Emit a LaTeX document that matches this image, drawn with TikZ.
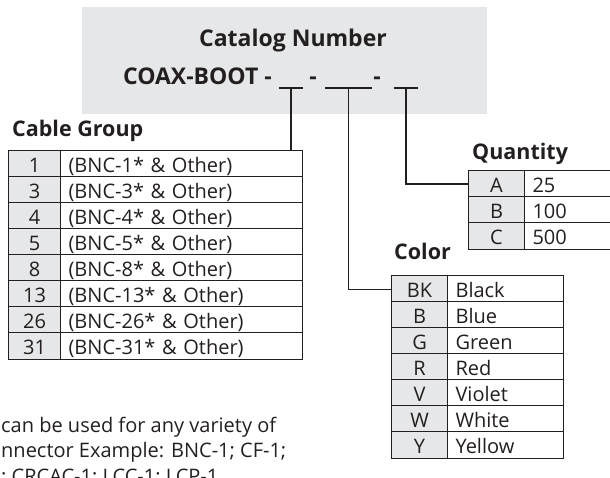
\documentclass[tikz,border=0pt]{standalone}
\usepackage{fontspec}
\setmainfont{Open Sans}
\definecolor{boxgray}{RGB}{230,231,232}
\definecolor{ink}{RGB}{35,31,32}
\newcommand{\cellfont}{\fontsize{20}{24}\selectfont}
\newcommand{\headfont}{\bfseries\fontsize{21.5}{25}\selectfont}
\newcommand{\catfont}{\bfseries\fontsize{23}{27}\selectfont}
\tikzset{
    inkline/.style={draw=ink,line width=1.1pt},
    heading/.style={font=\headfont,text=ink,inner sep=0pt},
    catline/.style={font=\catfont,text=ink,inner sep=0pt},
    codecell/.style={rectangle,draw=ink,line width=1.1pt,fill=boxgray,font=\cellfont,text=ink,
        anchor=north west,minimum width=#1,inner xsep=0pt,inner ysep=1pt,
        text height=21pt,text depth=4pt},
    namecell/.style={rectangle,draw=ink,line width=1.1pt,fill=white,font=\cellfont,text=ink,
        anchor=north west,text width=#1,align=left,inner xsep=8pt,inner ysep=1pt,
        text height=21pt,text depth=4pt},
    note/.style={font=\cellfont,text=ink,inner sep=0pt,anchor=base west}
}
\begin{document}
\begin{tikzpicture}[x=1pt,y=-1pt]
    \useasboundingbox (0,0) rectangle (610,478);
    \clip (0,0) rectangle (610,478);
    \fill[boxgray] (82,7) rectangle (487,114);
    \node[catline,anchor=base] (catalog) at (293,47) {Catalog Number};
    \node[catline,anchor=base east] (coax) at (272,85) {COAX-BOOT -};
    \coordinate (blankA) at (291,88);
    \coordinate (blankB) at (348.5,88);
    \coordinate (blankC) at (406,88);
    \node[catline,anchor=base] (dashA) at (313,85) {-};
    \node[catline,anchor=base] (dashB) at (377,85) {-};
    \draw[inkline] ([xshift=-12pt]blankA) -- ([xshift=12pt]blankA);
    \draw[inkline] ([xshift=-23.5pt]blankB) -- ([xshift=23.5pt]blankB);
    \draw[inkline] ([xshift=-12pt]blankC) -- ([xshift=12pt]blankC);

    \node[heading,anchor=base west] (cablegroup) at (12,137) {Cable Group};
    \foreach \code/\name [count=\i] in {1/(BNC-1* \& Other),3/(BNC-3* \& Other),4/(BNC-4* \& Other),
        5/(BNC-5* \& Other),8/(BNC-8* \& Other),13/(BNC-13* \& Other),26/(BNC-26* \& Other),31/(BNC-31* \& Other)}{
        \node[codecell=52pt] (cg\i) at (8,{150+(\i-1)*26}) {\code};
        \node[namecell=226pt] (cgname\i) at (60,{150+(\i-1)*26}) {\name};
    }

    \node[heading,anchor=base west] (quantity) at (472,160) {Quantity};
    \foreach \code/\name [count=\i] in {A/25,B/100,C/500}{
        \node[codecell=56pt] (qty\i) at (468,{170+(\i-1)*26}) {\code};
        \node[namecell=100pt] (qtyname\i) at (524,{170+(\i-1)*26}) {\name};
    }

    \node[heading,anchor=base west] (color) at (394,259) {Color};
    \foreach \code/\name [count=\i] in {BK/Black,B/Blue,G/Green,R/Red,V/Violet,W/White,Y/Yellow}{
        \node[codecell=56pt] (col\i) at (391,{275+(\i-1)*26}) {\code};
        \node[namecell=100pt] (colname\i) at (447,{275+(\i-1)*26}) {\name};
    }

    \draw[inkline] (blankA) -- (blankA |- cgname1.north);
    \draw[inkline] (blankB) |- (col1.west);
    \draw[inkline] (blankC) |- (qty1.west);

    \node[note] (noteA) at (1,432) {can be used for any variety of};
    \node[note] (noteB) at (1,457) {nnector Example: BNC-1; CF-1;};
    \node[note] (noteC) at (1,483) {; CRCAC-1; LCC-1; LCP-1};
\end{tikzpicture}
\end{document}
